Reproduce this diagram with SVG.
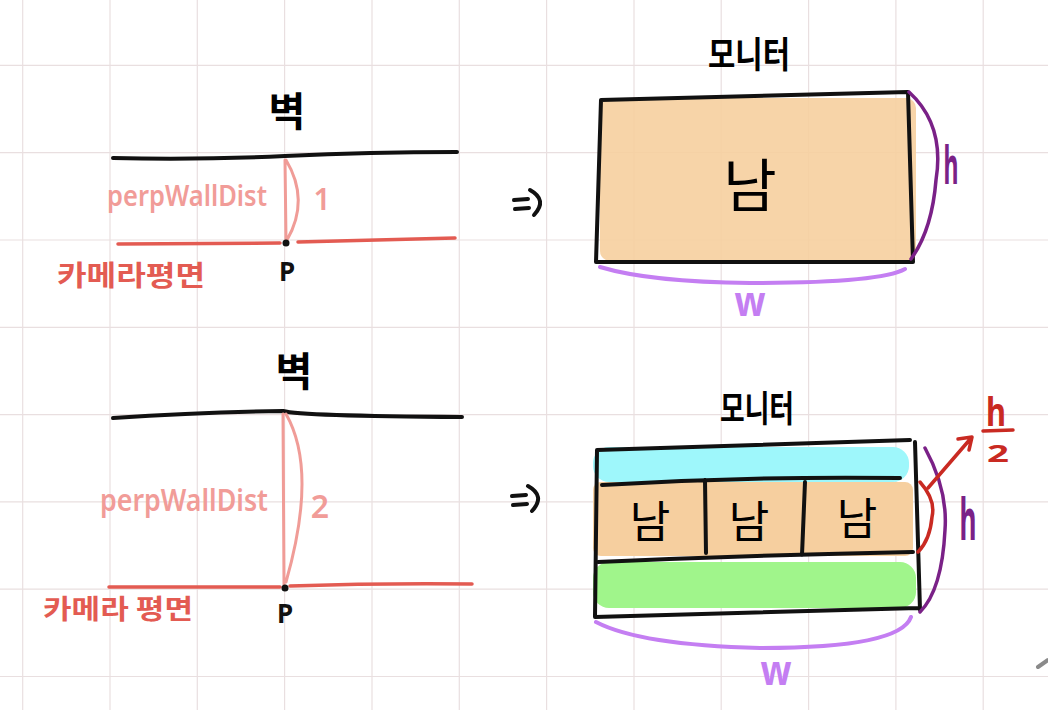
<svg xmlns="http://www.w3.org/2000/svg" width="1048" height="710" viewBox="0 0 1048 710">
<defs>
<style>
.grid{stroke:#e9dfe0;stroke-width:1.2}
.blk{fill:none;stroke:#111;stroke-width:4;stroke-linecap:round;stroke-linejoin:round}
.red{fill:none;stroke:#e35b52;stroke-width:3.5;stroke-linecap:round}
.pink{fill:none;stroke:#f09c97;stroke-width:3;stroke-linecap:round}
.dred{fill:none;stroke:#c92a22;stroke-width:3.5;stroke-linecap:round;stroke-linejoin:round}
.dpur{fill:none;stroke:#7a2187;stroke-width:3.5;stroke-linecap:round}
.lpur{fill:none;stroke:#c47ef2;stroke-width:4;stroke-linecap:round}
.kr{font-family:"Noto Sans CJK KR","Noto Sans",sans-serif;text-anchor:middle}
.lat{font-family:"Noto Sans","Liberation Sans",sans-serif;text-anchor:middle}
</style>
</defs>
<rect width="1048" height="710" fill="#ffffff"/>
<g id="grid">
<path class="grid" d="M22.7 0V710M110 0V710M197.3 0V710M284.6 0V710M372 0V710M459.3 0V710M546.6 0V710M634 0V710M721.2 0V710M808.6 0V710M895.9 0V710M983.2 0V710"/>
<path class="grid" d="M0 65.3H1048M0 152.6H1048M0 240H1048M0 327.3H1048M0 414.6H1048M0 501.9H1048M0 589.2H1048M0 676.5H1048"/>
</g>

<g id="scene1">
<text class="kr" x="287" y="126" font-size="40" font-weight="bold">벽</text>
<path class="blk" d="M113 158 Q200 160 285 156 T457 152"/>
<path class="red" d="M118 244 L280 243 M298 242 L455 238"/>
<path class="pink" d="M285 160 L286 240 M286 160 Q310 200 287 240"/>
<circle cx="286" cy="243" r="3.5" fill="#111"/>
<text class="lat" x="187" y="206" font-size="28" font-weight="600" fill="#f19c98" textLength="160" lengthAdjust="spacingAndGlyphs">perpWallDist</text>
<text class="lat" x="322" y="210" font-size="30" font-weight="600" fill="#f19c98">1</text>
<text class="lat" x="287" y="281" font-size="26" font-weight="bold" fill="#111">P</text>
<text class="kr" x="131" y="286" font-size="28" font-weight="bold" fill="#e35b52" textLength="148" lengthAdjust="spacingAndGlyphs">카메라평면</text>
</g>

<g id="scene2">
<text class="kr" x="294" y="386" font-size="40" font-weight="bold">벽</text>
<path class="blk" d="M113 418 Q200 412 283 411 Q300 416 462 417"/>
<path class="red" d="M109 587 L280 587 M290 586 Q380 583 472 584"/>
<path class="pink" d="M283 414 L284 585 M286 414 Q318 470 286 582"/>
<circle cx="285" cy="588" r="3.5" fill="#111"/>
<text class="lat" x="184" y="511" font-size="31" font-weight="600" fill="#f19c98" textLength="168" lengthAdjust="spacingAndGlyphs">perpWallDist</text>
<text class="lat" x="320" y="518" font-size="32" font-weight="600" fill="#f19c98">2</text>
<text class="lat" x="285" y="623" font-size="26" font-weight="bold" fill="#111">P</text>
<text class="kr" x="118" y="619" font-size="27" font-weight="bold" fill="#e35b52" textLength="150" lengthAdjust="spacingAndGlyphs">카메라 평면</text>
</g>

<g id="arrow1">
<path class="blk" d="M514 200 L528 199 M515 209 L529 208 M530 190 Q548 200 534 215"/>
</g>
<g id="arrow2">
<path class="blk" d="M512 496 L526 495 M513 505 L527 504 M528 486 Q546 496 532 511"/>
</g>

<g id="monitor1">
<text class="kr" x="749" y="68" font-size="36" font-weight="bold" textLength="82" lengthAdjust="spacingAndGlyphs">모니터</text>
<rect x="600" y="98" width="316" height="163" rx="10" fill="#f6cf9f" opacity="0.9"/>
<path class="blk" d="M601 100 L908 92 L913 262 L596 262 Z"/>
<text class="kr" x="750" y="207" font-size="58">남</text>
<path class="dpur" d="M909 92 Q945 125 936 180 Q932 230 911 259"/>
<text class="lat" x="951" y="184" font-size="52" font-weight="bold" fill="#7a2187" textLength="15" lengthAdjust="spacingAndGlyphs">h</text>
<path class="lpur" d="M600 267 Q650 282 750 283 Q880 283 905 269"/>
<text class="lat" x="750" y="316" font-size="42" font-weight="bold" fill="#c47ef2" textLength="31" lengthAdjust="spacingAndGlyphs">w</text>
</g>

<g id="monitor2">
<text class="kr" x="757" y="422" font-size="36" font-weight="bold" textLength="74" lengthAdjust="spacingAndGlyphs">모니터</text>
<rect x="593" y="447" width="316" height="35" rx="16" fill="#9ef7fb"/>
<rect x="593" y="482" width="320" height="74" rx="8" fill="#f6cf9f"/>
<rect x="593" y="562" width="323" height="46" rx="16" fill="#a0f58b"/>
<path class="blk" d="M597 450 L910 440 M915 442 L920 610 M918 608 L595 617 L597 450"/>
<path class="blk" d="M602 485 Q750 476 900 478 M598 562 Q760 555 913 552 M705 480 L706 553 M805 482 L802 555"/>
<text class="kr" x="650" y="538" font-size="44">남</text>
<text class="kr" x="749" y="538" font-size="44">남</text>
<text class="kr" x="857" y="535" font-size="44">남</text>
<path class="dpur" d="M925 448 Q948 490 945 530 Q942 590 920 612"/>
<text class="lat" x="968" y="540" font-size="58" font-weight="bold" fill="#7a2187" textLength="17" lengthAdjust="spacingAndGlyphs">h</text>
<path class="lpur" d="M596 622 Q640 645 760 648 Q900 648 911 617"/>
<text class="lat" x="776" y="685" font-size="42" font-weight="bold" fill="#c47ef2" textLength="31" lengthAdjust="spacingAndGlyphs">w</text>
<path class="dred" d="M920 482 Q936 500 932 517 Q930 540 918 552"/>
<path class="dred" d="M928 488 L972 437 M958 439 L972 437 L969 450"/>
<text class="lat" x="996" y="426" font-size="40" font-weight="bold" fill="#c92a22" textLength="20" lengthAdjust="spacingAndGlyphs">h</text>
<path class="dred" d="M983 431 L1013 430"/>
<text class="lat" x="998" y="462" font-size="24" font-weight="bold" fill="#c92a22" textLength="22" lengthAdjust="spacingAndGlyphs">2</text>
</g>

<path d="M1038 667 L1048 660" stroke="#8a8a8a" stroke-width="4" stroke-linecap="round" fill="none"/>
</svg>
